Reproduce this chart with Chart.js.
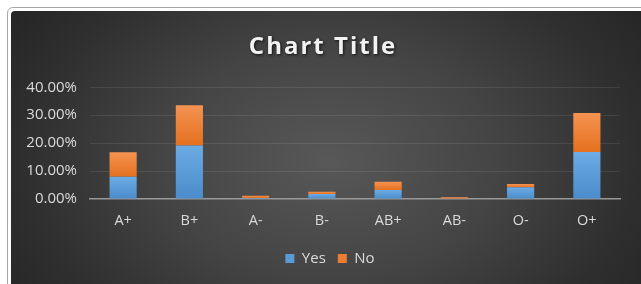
<!DOCTYPE html>
<html>
<head>
<meta charset="utf-8">
<script src="https://cdn.jsdelivr.net/npm/chart.js@4"></script>
<style>
  html, body { margin: 0; padding: 0; background: #fff; overflow: hidden; }
  #frame {
    position: absolute; left: 7px; top: 7px; width: 660px; height: 300px;
    border: 1px solid #a6a6a6; border-radius: 6px; background: #fff;
  }
  #inner {
    position: absolute; left: 3px; top: 3px; right: 3px; bottom: 3px; border-radius: 4px;
    background: radial-gradient(ellipse 380px 260px at 318px 150px, #585858 0%, #444 45%, #2f2f2f 80%, #262626 100%);
  }
  #wrap { position: absolute; left: 0; top: 0; width: 641px; height: 284px; }
</style>
</head>
<body>
<div id="frame"><div id="inner"></div></div>
<div id="wrap"><canvas id="chart" width="641" height="284"></canvas></div>
<script>
const groups = ["A+", "B+", "A-", "B-", "AB+", "AB-", "O-", "O+"];
const yes = [8.0, 19.2, 0.4, 1.8, 3.2, 0.0, 4.2, 16.8];
const no = [8.7, 14.4, 0.8, 0.8, 3.0, 0.6, 1.2, 14.0];
const yTicks = [0, 10, 20, 30, 40];

const font = "'Open Sans', sans-serif";
const textColor = "#dadada";

// vertical gradient per bar, lighter at the top like the Excel style
function barFill(top, bottom, flat) {
  return ctx => {
    const chart = ctx.chart;
    const y = chart.scales.y;
    if (!y || ctx.dataIndex === undefined) return flat;
    const i = ctx.dataIndex;
    const base = ctx.datasetIndex === 0 ? 0 : yes[i];
    const val = ctx.datasetIndex === 0 ? yes[i] : yes[i] + no[i];
    const y0 = y.getPixelForValue(val), y1 = y.getPixelForValue(base);
    if (!isFinite(y0) || !isFinite(y1) || y1 - y0 < 1) return flat;
    const g = chart.ctx.createLinearGradient(0, y0, 0, y1);
    g.addColorStop(0, top);
    g.addColorStop(1, bottom);
    return g;
  };
}

const titleStyle = {
  id: "titleStyle",
  afterInit(chart) {
    const tb = chart.titleBlock;
    const orig = tb.draw.bind(tb);
    tb.draw = function (area) {
      const c = chart.ctx;
      c.save();
      c.letterSpacing = "2px";
      c.shadowColor = "rgba(0,0,0,0.75)";
      c.shadowBlur = 3;
      c.shadowOffsetX = 1;
      c.shadowOffsetY = 1;
      orig(area);
      c.restore();
    };
  },
  // legend in the reference sits a little right of the title
  afterLayout(chart) {
    chart.legend.left += 7;
    chart.legend.right += 7;
  }
};

new Chart(document.getElementById("chart"), {
  type: "bar",
  data: {
    labels: groups,
    datasets: [
      { label: "Yes", data: yes, backgroundColor: barFill("#6cabe3", "#4a8bcb", "#5B9BD5") },
      { label: "No", data: no, backgroundColor: barFill("#f59352", "#e4701f", "#ED7D31") }
    ]
  },
  options: {
    responsive: false,
    animation: false,
    layout: { padding: { left: 26, right: 21, top: 0, bottom: 8 } },
    datasets: { bar: { categoryPercentage: 1, barPercentage: 0.41, borderWidth: 0 } },
    scales: {
      x: {
        stacked: true,
        grid: { display: false, drawTicks: false },
        border: { color: "#999", width: 1.5 },
        ticks: { color: textColor, font: { family: font, size: 14.5 }, padding: 13 },
        afterFit: s => { s.height = 40; }
      },
      y: {
        stacked: true,
        min: 0, max: 40,
        afterBuildTicks: s => { s.ticks = yTicks.map(v => ({ value: v })); },
        grid: {
          drawTicks: false,
          color: c => (c.tick && c.tick.value === 0 ? "rgba(0,0,0,0)" : "rgba(255,255,255,0.09)")
        },
        border: { display: false },
        ticks: {
          color: textColor, font: { family: font, size: 15 }, padding: 13,
          callback: v => v.toFixed(2) + "%"
        },
        afterFit: s => { s.width = 64; }
      }
    },
    plugins: {
      title: {
        display: true,
        text: "Chart Title",
        color: "#f2f2f2",
        font: { family: font, size: 24, weight: "bold" },
        padding: { top: 33, bottom: 25.5 }
      },
      legend: {
        position: "bottom",
        labels: {
          color: textColor, boxWidth: 9, boxHeight: 9, padding: 12,
          font: { family: font, size: 15 },
          generateLabels: chart => chart.data.datasets.map((d, i) => ({
            text: d.label,
            fillStyle: i === 0 ? "#5B9BD5" : "#ED7D31",
            strokeStyle: "rgba(0,0,0,0)", lineWidth: 0, datasetIndex: i,
            fontColor: textColor
          }))
        }
      },
      tooltip: { enabled: false }
    }
  },
  plugins: [titleStyle]
});
</script>
</body>
</html>
